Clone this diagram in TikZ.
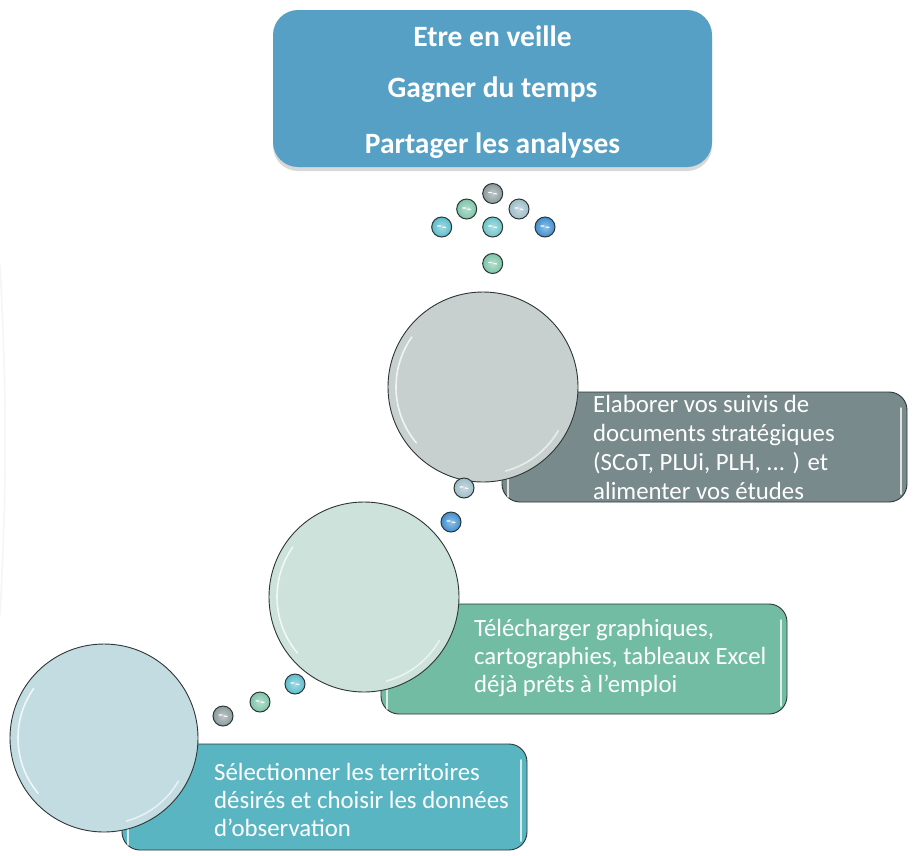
\documentclass[tikz,border=0pt]{standalone}
\usepackage{fontspec}
\setmainfont{Carlito}
\usetikzlibrary{shadows}
\definecolor{topblue}{HTML}{56A0C5}
\definecolor{boxgray}{HTML}{788A8B}
\definecolor{boxgreen}{HTML}{72BCA3}
\definecolor{boxteal}{HTML}{5AB5C2}
\definecolor{cgray}{HTML}{C8CFCF}
\definecolor{cgreen}{HTML}{CCE2DB}
\definecolor{cblue}{HTML}{C3DCE2}
\definecolor{bgray}{HTML}{8A9A9B}
\definecolor{bgreen}{HTML}{7CC4A8}
\definecolor{bsteel}{HTML}{9DBCC8}
\definecolor{bcyan}{HTML}{5BBCCC}
\definecolor{bteal}{HTML}{6CC4C8}
\definecolor{bblue}{HTML}{3D8ED0}
\definecolor{edge}{HTML}{2E3535}
\tikzset{
  bub/.style={circle, minimum size=20pt, inner sep=0pt, draw=edge, line width=1pt,
    inner color=#1!55!white, outer color=#1,
    path picture={
      \draw[white, line width=1.1pt, line cap=round]
        ([xshift=-4pt,yshift=1pt]path picture bounding box.center) -- ([xshift=-1pt,yshift=1pt]path picture bounding box.center)
        ([xshift=1pt,yshift=0pt]path picture bounding box.center) -- ([xshift=4pt,yshift=-0.5pt]path picture bounding box.center);}},
  bigc/.style={circle, minimum size=#1, inner sep=0pt, draw=edge, line width=0.9pt},
  stepbox/.style={rectangle, rounded corners=18pt, draw=edge, line width=0.9pt, inner sep=0pt},
  btext/.style={anchor=west, align=left, text=white, inner sep=0pt,
    font=\fontsize{24.8}{28}\selectfont},
  ttext/.style={text=white, font=\bfseries\fontsize{29.5}{33}\selectfont},
  hl/.style={white, line width=1.6pt, opacity=0.75, line cap=round},
}
\begin{document}
\begin{tikzpicture}[x=1pt,y=-1pt]
\useasboundingbox (0,0) rectangle (918,855);
\fill[white] (0,0) rectangle (918,855);
% faint left curve
\draw[black!4, line width=1.5pt] (0,265) .. controls (7,400) and (7,480) .. (0,615);

% top box
\node[rectangle, rounded corners=25pt, fill=topblue, minimum width=439pt, minimum height=157pt,
  drop shadow={opacity=0.3, shadow xshift=0pt, shadow yshift=-4pt}] (top) at (492.5,88.5) {};
\node[ttext] (t1) at (492.5,36) {Etre en veille};
\node[ttext] (t2) at (492.5,90) {Gagner du temps};
\node[ttext] (t3) at (492.5,146) {Partager les analyses};

% top bubbles
\node[bub=bgray]  (b1) at (492.7,193.5) {};
\node[bub=bgreen] (b2) at (466.7,209) {};
\node[bub=bsteel] (b3) at (519,209) {};
\node[bub=bcyan]  (b4) at (441.7,227) {};
\node[bub=bteal]  (b5) at (492.7,227) {};
\node[bub=bblue]  (b6) at (545,227) {};
\node[bub=bgreen] (b7) at (492.7,263.5) {};

% boxes
\node[stepbox, fill=boxgray, minimum width=405pt, minimum height=110pt] (box1) at (704.5,447) {};
\draw[hl] (508,440) -- (508,497);
\draw[hl] (901,408) -- (901,494);
\node[btext, font=\fontsize{24.8}{29}\selectfont] (txt1) at (593,447) {Elaborer vos suivis de\\documents stratégiques\\(SCoT, PLUi, PLH, ... ) et\\alimenter vos études};

\node[stepbox, fill=boxgreen, minimum width=406pt, minimum height=110pt] (box2) at (584,659) {};
\draw[hl] (387,655) -- (387,709);
\draw[hl] (781,620) -- (781,706);
\node[btext] (txt2) at (474,658) {Télécharger graphiques,\\cartographies, tableaux Excel\\déjà prêts à l'emploi};

\node[stepbox, fill=boxteal, minimum width=405pt, minimum height=106pt] (box3) at (324.5,797) {};
\draw[hl] (128,795) -- (128,845);
\draw[hl] (521,760) -- (521,841);
\node[btext] (txt3) at (214,800) {Sélectionner les territoires\\désirés et choisir les données\\d'observation};

% big circles
\node[bigc=190pt, fill=cgray] (c1) at (483,387) {};
\draw[hl] (c1) ++(215:87) arc[start angle=215, end angle=140, radius=87];
\draw[hl, opacity=0.6] (c1) ++(75:87) arc[start angle=75, end angle=30, radius=87];
\node[bigc=190pt, fill=cgreen] (c2) at (364,597) {};
\draw[hl] (c2) ++(215:87) arc[start angle=215, end angle=140, radius=87];
\draw[hl, opacity=0.6] (c2) ++(75:87) arc[start angle=75, end angle=30, radius=87];
\node[bigc=188pt, fill=cblue] (c3) at (104,738) {};
\draw[hl] (c3) ++(215:86) arc[start angle=215, end angle=140, radius=86];
\draw[hl, opacity=0.6] (c3) ++(75:86) arc[start angle=75, end angle=30, radius=86];

% connecting bubbles
\node[bub=bsteel] (b8) at (464,488) {};
\node[bub=bblue]  (b9) at (451,522) {};
\node[bub=bcyan]  (b10) at (295,684) {};
\node[bub=bgreen] (b11) at (260,702) {};
\node[bub=bgray]  (b12) at (223,716) {};
\end{tikzpicture}
\end{document}
